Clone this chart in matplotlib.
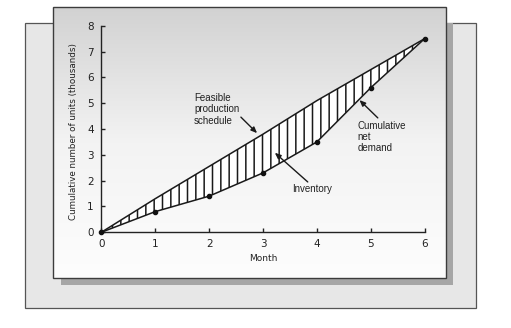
import numpy as np
import matplotlib
matplotlib.use("Agg")
import matplotlib.pyplot as plt
from matplotlib.patches import Rectangle
from matplotlib.colors import LinearSegmentedColormap

# cumulative values (thousands of units) at the end of each month
months = [0, 1, 2, 3, 4, 5, 6]
net_demand = [0, 0.8, 1.4, 2.3, 3.5, 5.6, 7.5]
production = [0, 1.3, 2.55, 3.8, 5.1, 6.3, 7.5]

x_ticks = [0, 1, 2, 3, 4, 5, 6]
y_ticks = [0, 1, 2, 3, 4, 5, 6, 7, 8]

plt.rcParams['font.family'] = 'DejaVu Sans'
plt.rcParams['hatch.linewidth'] = 1.1
plt.rcParams['hatch.color'] = '#1a1a1a'

W, H = 511, 328
fig = plt.figure(figsize=(W / 100, H / 100), dpi=100)

# background frame, drawn in pixel coordinates
bg = fig.add_axes([0, 0, 1, 1])
bg.set_xlim(0, W)
bg.set_ylim(H, 0)
bg.axis('off')
bg.add_patch(Rectangle((25, 23), 451, 285, facecolor='#e7e7e7', edgecolor='#555555', lw=0.9))
bg.add_patch(Rectangle((61, 23), 392, 262, facecolor='#a6a6a6', edgecolor='none'))
grad = np.linspace(0, 1, 256).reshape(-1, 1)
panel_cmap = LinearSegmentedColormap.from_list('panel', ['#d2d2d2', '#f3f3f3', '#fdfdfd'])
bg.imshow(grad, extent=(53, 446, 278, 7), cmap=panel_cmap, aspect='auto', zorder=2)
bg.add_patch(Rectangle((53, 7), 393, 271, facecolor='none', edgecolor='#3c3c3c', lw=1.0, zorder=3))

ax = fig.add_axes([101.3 / W, 1 - 232.3 / H, 323.4 / W, 206.6 / H])
ax.set_facecolor('none')
ax.set_xlim(0, 6)
ax.set_ylim(0, 8)
for s in ['top', 'right']:
    ax.spines[s].set_visible(False)
for s in ['left', 'bottom']:
    ax.spines[s].set_linewidth(1.0)
    ax.spines[s].set_color('#222222')

# inventory region between the two cumulative curves
ax.fill_between(months, net_demand, production, facecolor='white', edgecolor='#1a1a1a',
                hatch='||', linewidth=0, zorder=2)
ax.plot(months, production, color='#1a1a1a', lw=1.1, zorder=3)
ax.plot(months, net_demand, color='#1a1a1a', lw=1.1, zorder=3)
ax.plot(months, net_demand, 'o', color='#111111', ms=3, zorder=4, clip_on=False)

ax.set_xticks(x_ticks)
ax.set_yticks(y_ticks)
ax.tick_params(direction='in', length=3, width=1, colors='#222222', labelsize=7.5)
ax.tick_params(axis='y', pad=5.5)
ax.tick_params(axis='x', pad=4.5)
ax.set_xlabel('Month', fontsize=6.5, color='#222222')
ax.xaxis.set_label_coords(0.5, -0.105)
ax.set_ylabel('Cumulative number of units (thousands)', fontsize=6.3, color='#222222')
ax.yaxis.set_label_coords(-0.072, 0.49)

arrow = dict(arrowstyle='-|>,head_length=0.35,head_width=0.15', color='#1a1a1a', lw=1.0,
             shrinkA=0, shrinkB=0)
txt = dict(fontsize=7, color='#222222', linespacing=1.15, family='Liberation Sans')

ax.text(1.72, 5.39, 'Feasible\nproduction\nschedule', ha='left', va='top', **txt)
ax.annotate('', xy=(2.89, 3.84), xytext=(2.59, 4.46), arrowprops=arrow)

ax.text(3.54, 1.56, 'Inventory', ha='left', va='baseline', **txt)
ax.annotate('', xy=(3.22, 3.08), xytext=(3.83, 1.95), arrowprops=arrow)

ax.text(4.75, 4.31, 'Cumulative\nnet\ndemand', ha='left', va='top', **txt)
ax.annotate('', xy=(4.79, 5.12), xytext=(5.13, 4.43), arrowprops=arrow)

fig.savefig('out.png', dpi=100)
